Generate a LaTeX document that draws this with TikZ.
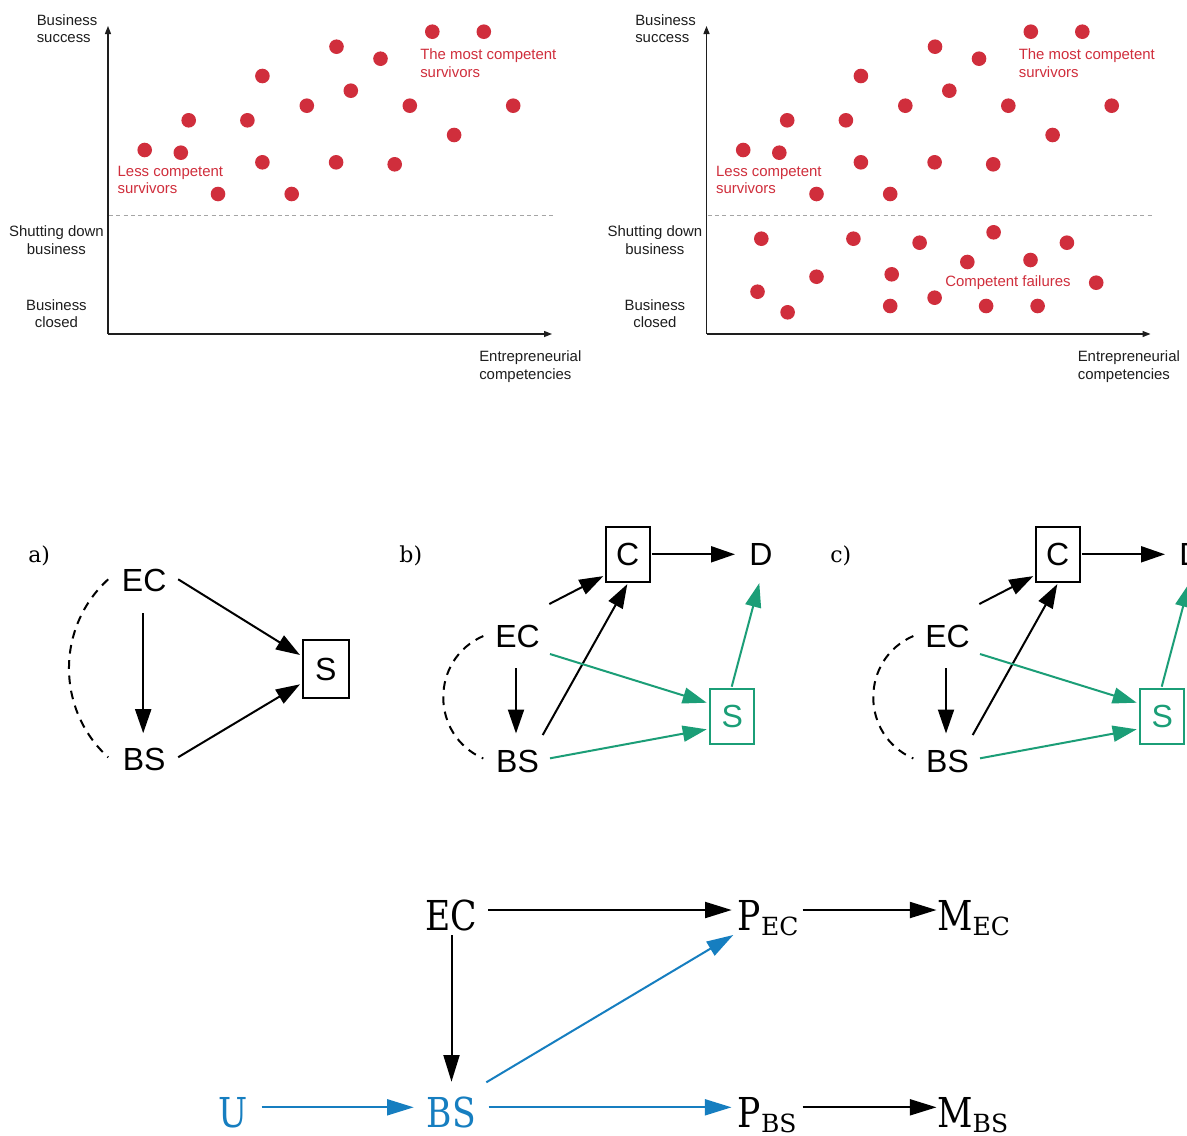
\documentclass[tikz,border=0pt]{standalone}
\usepackage{fontspec}
\usetikzlibrary{arrows.meta,calc}
\newfontfamily\chartfont{Liberation Sans}
\newfontfamily\dagfont{Liberation Sans}
\newfontfamily\plabfont{DejaVu Serif}
\newfontfamily\botfont[FakeStretch=0.84]{DejaVu Serif}
\newfontfamily\botsubfont{DejaVu Serif}
\definecolor{dotred}{RGB}{208,46,60}
\definecolor{dgreen}{RGB}{27,158,119}
\definecolor{dblue}{RGB}{22,126,192}
\definecolor{txtgray}{RGB}{30,30,30}
\definecolor{dashgray}{RGB}{165,165,165}
\newcommand\botsub[1]{\raisebox{-3.75pt}{\botsubfont\fontsize{18.75}{20}\selectfont #1}}

\tikzset{
  ctext/.style={font={\chartfont\fontsize{11.2}{13.1}\selectfont}, inner sep=0pt, text=txtgray},
  ctl/.style={ctext, align=left, anchor=west},
  ctc/.style={ctext, align=center},
  axisline/.style={line width=1pt, draw=txtgray, -{Triangle[length=6pt,width=4.5pt]}},
  divline/.style={line width=0.8pt, draw=dashgray, dash pattern=on 3pt off 2.5pt},
  dagtxt/.style={font={\dagfont\fontsize{24}{28}\selectfont}, inner sep=0pt},
  dagbox/.style={dagtxt, draw, line width=1.5pt},
  plab/.style={font={\plabfont\fontsize{16.5}{20}\selectfont}, inner sep=0pt},
  darr/.style={line width=1.5pt, -{Triangle[length=18pt,width=12pt]}},
  garr/.style={darr, color=dgreen},
  darc/.style={line width=1.5pt, dash pattern=on 6.5pt off 5pt},
  bottxt/.style={font={\botfont\fontsize{30.9}{36}\selectfont}, inner sep=0pt},
  barr/.style={line width=1.5pt, -{Triangle[length=20pt,width=12pt]}},
}

% #1 prefix, #2 x offset
\newcommand\chartbase[2]{%
  \coordinate (#1O) at (108+#2,334);
  \coordinate (#1Y) at (108+#2,26);
  \coordinate (#1X) at (552+#2,334);
  \coordinate (#1L) at (109+#2,215.7);
  \coordinate (#1R) at (553+#2,215.7);
  \draw[divline] (#1L) -- (#1R);
  \draw[axisline] (#1O) -- (#1Y);
  \draw[axisline] (#1O) -- (#1X);
  \node[ctl] (#1ys) at (36.5+#2,28.4) {Business\\success};
  \node[ctl, text=dotred] (#1mc) at (420+#2,63.3) {The most competent\\survivors};
  \node[ctl, text=dotred] (#1lc) at (117.4+#2,180) {Less competent\\survivors};
  \node[ctc] (#1sd) at (56.4+#2,240) {Shutting down\\business};
  \node[ctc] (#1bc) at (56.4+#2,313.8) {Business\\closed};
  \node[ctl] (#1en) at (479+#2,366.5) {Entrepreneurial\\competencies};
  \foreach \px/\py in {432.3/31.7, 483.8/31.7, 336.5/46.7, 380.5/58.7, 262.4/76,
      350.8/90.7, 306.8/105.7, 409.8/105.7, 513.2/105.7, 188.7/120.3, 247.4/120.3,
      454.1/135, 144.7/150, 180.8/152.7, 262.4/162.3, 336.1/162.3, 394.7/164.3,
      218/194, 291.7/194}
    {\fill[dotred] (\px+#2,\py) circle[radius=7.3];}
}

% #1 prefix, #2 x offset, #3 label
\newcommand\dagpanel[3]{%
  \node[plab] (#1lab) at (410.8+#2,556.2) {#3};
  \node[dagtxt] (#1EC) at (517.5+#2,636.8) {EC};
  \node[dagtxt] (#1BS) at (517.5+#2,761.2) {BS};
  \node[dagtxt] (#1D) at (760.8+#2,554.3) {D};
  \node[dagbox, minimum width=33.2pt, minimum height=40.9pt] (#1C) at (627.7+#2,554.3) {C};
  \node[dagbox, minimum width=33.2pt, minimum height=40.9pt, draw=dgreen, text=dgreen] (#1S) at (732.2+#2,716.7) {S};
  \coordinate (#1A) at ($(#1EC)+(-34.2,-0.8)$);
  \coordinate (#1B) at ($(#1BS)+(-34.2,-2.7)$);
  \draw[darc] (#1A) .. controls ($(#1A)+(-53.4,23.4)$) and ($(#1B)+(-53.4,-23.4)$) .. (#1B);
  \draw[darr] ($(#1EC)+(-1.5,31.5)$) -- ($(#1BS)+(-1.5,-27.7)$);
  \draw[darr] ($(#1EC)+(31.8,-32.8)$) -- ($(#1C)+(-24.4,21.8)$);
  \draw[darr] ($(#1BS)+(25.2,-26.2)$) -- ($(#1C)+(-0.4,29.8)$);
  \draw[darr] ($(#1C)+(24,0)$) -- ($(#1D)+(-25.8,0)$);
  \draw[garr] ($(#1EC)+(32.5,17.2)$) -- ($(#1S)+(-25.5,-14)$);
  \draw[garr] ($(#1BS)+(32.5,-2.9)$) -- ($(#1S)+(-25.5,12.6)$);
  \draw[garr] ($(#1S)+(-0.5,-30)$) -- ($(#1D)+(-1.5,28.8)$);
}

\begin{document}
\begin{tikzpicture}[x=0.75pt,y=-0.75pt]
\useasboundingbox (0,0) rectangle (1187,1135);
\fill[white] (0,0) rectangle (1187,1135);
\clip (0,0) rectangle (1187,1135);

% ---------- scatter charts ----------
\chartbase{L}{0}
\chartbase{R}{598.5}
\foreach \px/\py in {761.3/238.7, 853.4/238.7, 919.6/242.7, 993.6/232.3, 1066.9/242.7,
    967.3/262, 1030.5/260, 816.5/276.7, 891.7/274.3, 1096.2/282.7, 757.5/291.7,
    934.6/297.7, 787.6/312.3, 890.2/306, 986.1/306, 1037.6/306}
  {\fill[dotred] (\px,\py) circle[radius=7.3];}
\node[ctl, text=dotred] (cf) at (945,282.8) {Competent failures};

% ---------- panel a ----------
\node[plab] (alab) at (39.2,556.2) {a)};
\node[dagtxt] (aEC) at (144.2,580.8) {EC};
\node[dagtxt] (aBS) at (144.2,759.2) {BS};
\node[dagbox, minimum width=34.7pt, minimum height=43.5pt] (aS) at (325.8,669.3) {S};
\coordinate (aA) at ($(aEC)+(-36,-1.5)$);
\coordinate (aB) at ($(aBS)+(-36,-1.9)$);
\draw[darc] (aA) .. controls ($(aA)+(-52.3,47.7)$) and ($(aB)+(-52.3,-47.7)$) .. (aB);
\draw[darr] ($(aEC)+(-1,32.5)$) -- ($(aBS)+(-1,-26)$);
\draw[darr] ($(aEC)+(34,-1.5)$) -- ($(aS)+(-25.8,-14.3)$);
\draw[darr] ($(aBS)+(34,-2)$) -- ($(aS)+(-25.8,15)$);

% ---------- panels b and c ----------
\dagpanel{b}{0}{b)}
\dagpanel{c}{430}{c)}

% ---------- bottom diagram ----------
\node[bottxt] (dEC) at (451.5,915) {EC};
\node[bottxt, text=dblue] (dU) at (233.3,1112.5) {U};
\node[bottxt, text=dblue] (dBS) at (451.5,1112.5) {BS};
\node[bottxt, anchor=base west] (dPEC) at (737.5,930) {P\botsub{EC}};
\node[bottxt, anchor=base west] (dMEC) at (937,930) {M\botsub{EC}};
\node[bottxt, anchor=base west] (dPBS) at (737.5,1127) {P\botsub{BS}};
\node[bottxt, anchor=base west] (dMBS) at (937,1127) {M\botsub{BS}};
\draw[barr] ($(dEC)+(36.8,-5)$) -- ($(dPEC.base west)+(-5.8,-20)$);
\draw[barr] ($(dPEC.base west)+(65.2,-20)$) -- ($(dMEC.base west)+(-0.5,-20)$);
\draw[barr] ($(dEC)+(0,20)$) -- ($(dBS)+(0,-30.8)$);
\draw[barr, dblue] ($(dU)+(28.4,-5.2)$) -- ($(dBS)+(-37.8,-5.2)$);
\draw[barr, dblue] ($(dBS)+(37,-5.2)$) -- ($(dPBS.base west)+(-6,-19.7)$);
\draw[barr, dblue] ($(dBS)+(34.8,-30.2)$) -- ($(dPEC.base west)+(-4.2,5)$);
\draw[barr] ($(dPBS.base west)+(65.2,-19.7)$) -- ($(dMBS.base west)+(-0.5,-19.7)$);
\end{tikzpicture}
\end{document}
